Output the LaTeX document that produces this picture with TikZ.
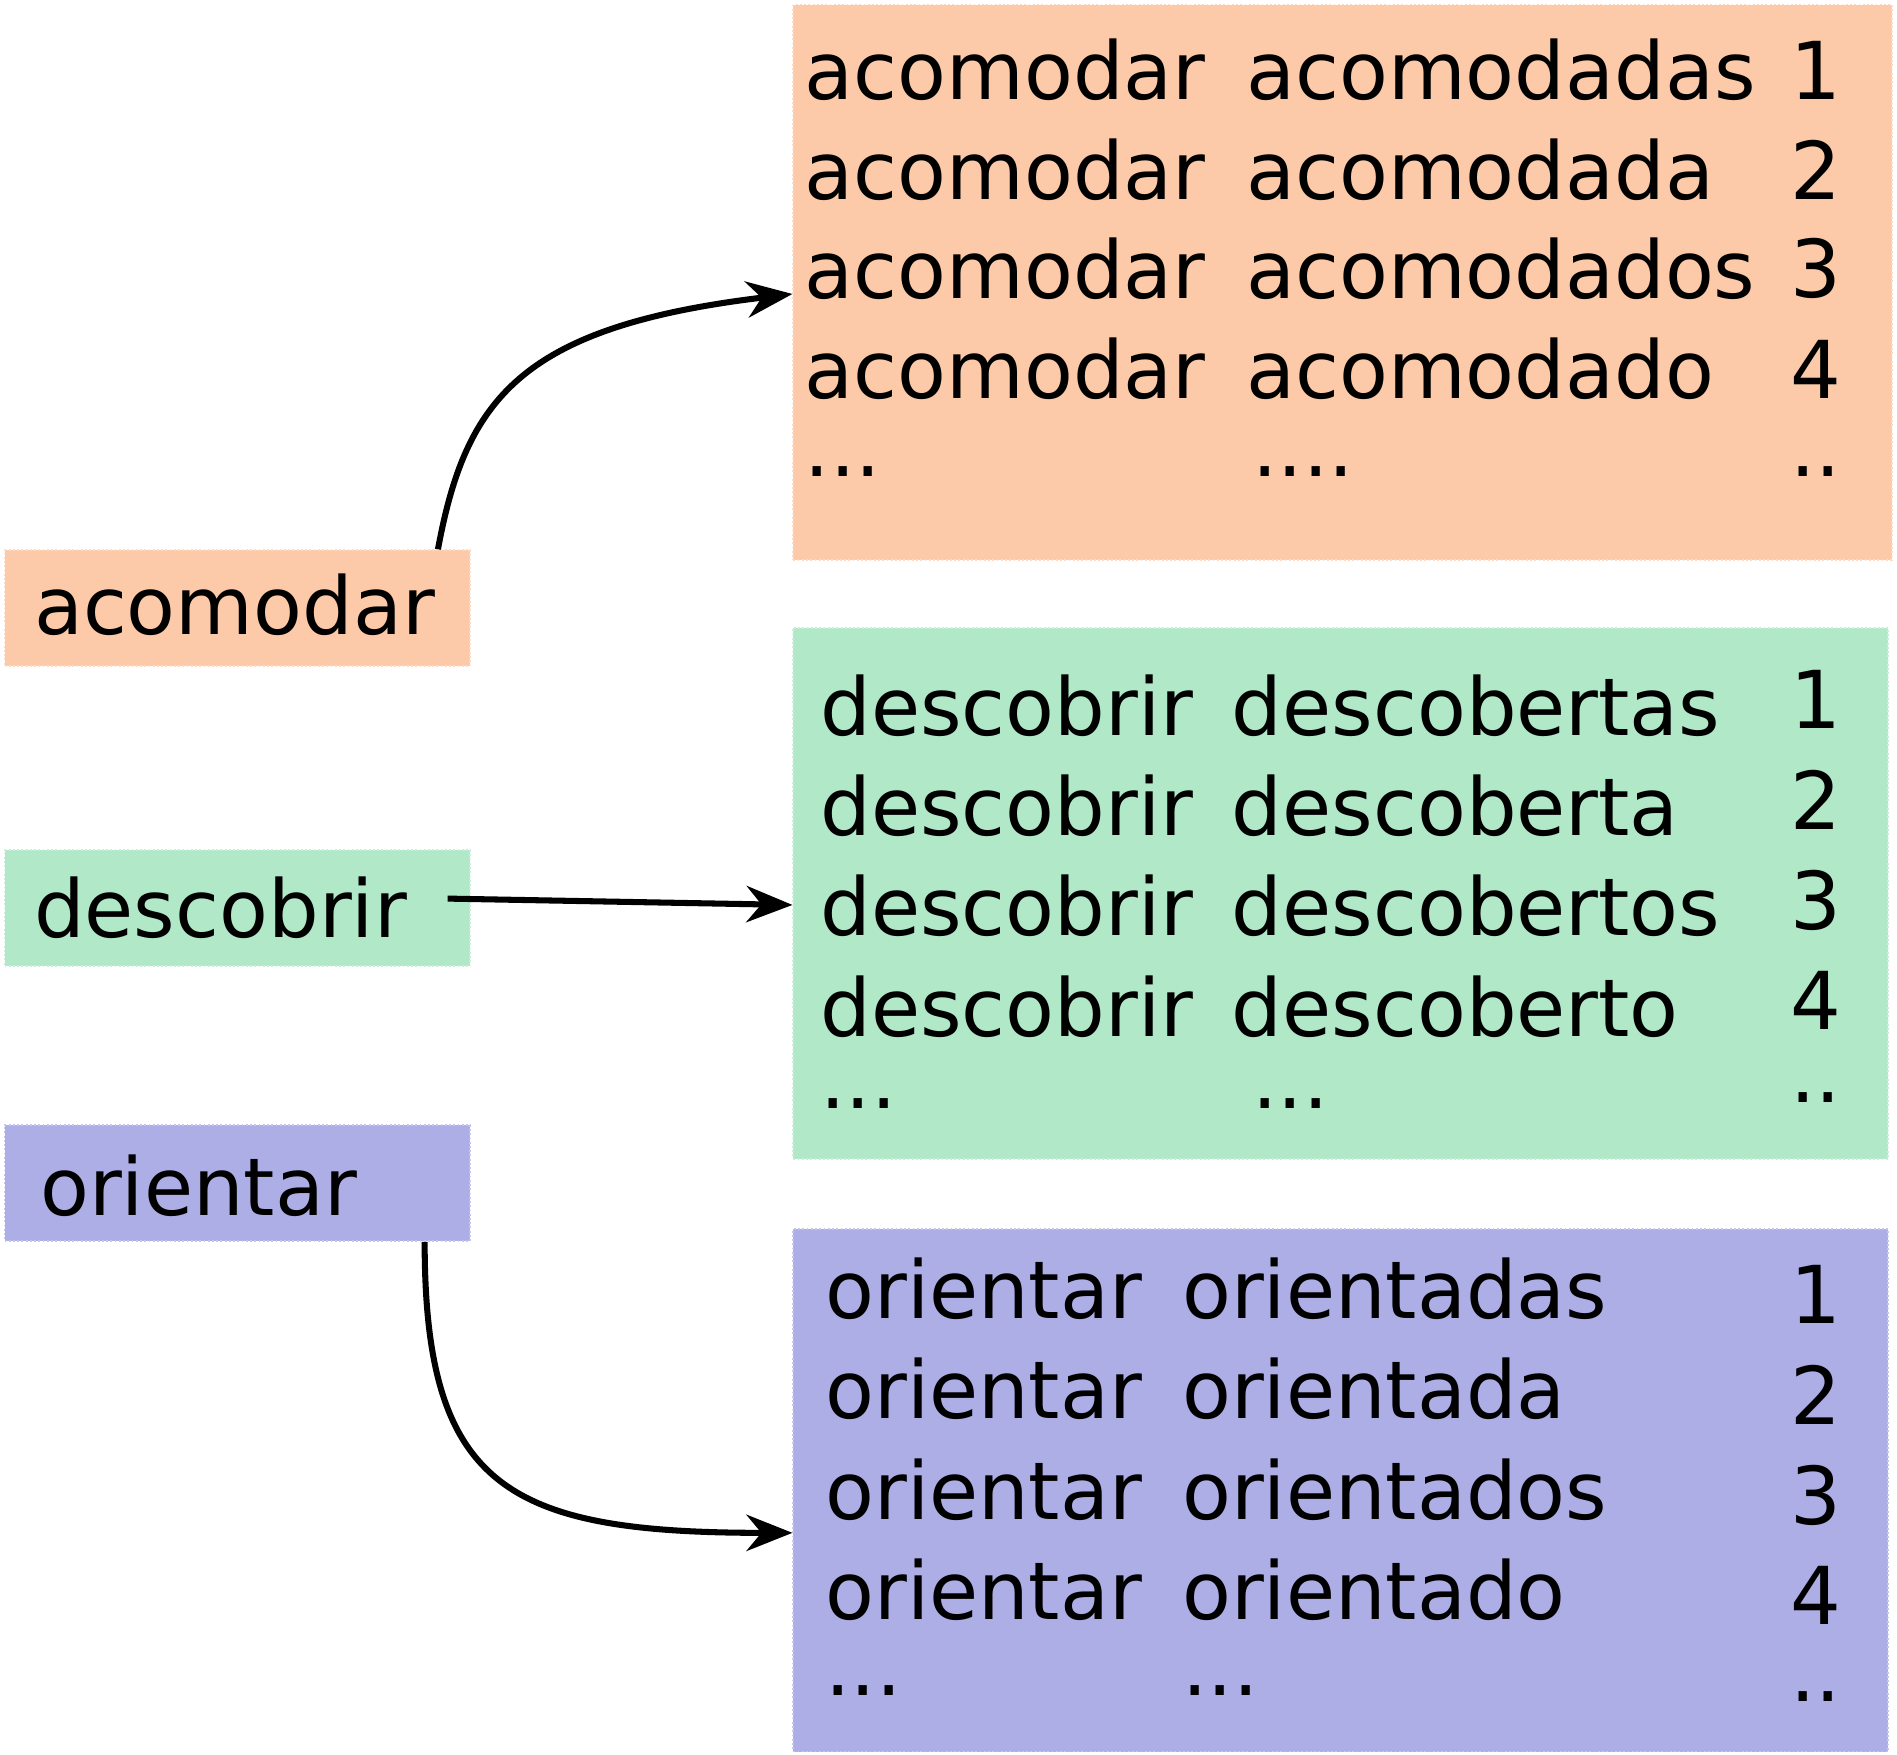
\documentclass[tikz,border=0pt]{standalone}
\usepackage{fontspec}
\setmainfont{DejaVu Sans}
\usetikzlibrary{arrows.meta}
\definecolor{corange}{HTML}{FCCAA8}
\definecolor{cgreen}{HTML}{B0E8C8}
\definecolor{cpurple}{HTML}{AEAEE6}
\begin{document}
\begin{tikzpicture}[x=1pt,y=-1pt,
  box/.style={draw=#1!70!white,dotted,line width=1.5pt,fill=#1,inner sep=0pt,anchor=north west},
  txt/.style={font=\fontsize{66}{70}\selectfont,anchor=west,inner sep=0pt},
  num/.style={font=\fontsize{66}{70}\selectfont,anchor=east,inner sep=0pt},
  conn/.style={line width=5pt,-{Stealth[length=38pt,width=30pt]}}]
\useasboundingbox (0,0) rectangle (1568,1450);
% big boxes
\node[box=corange,minimum width=908,minimum height=459] (obox) at (655,3) {};
\node[box=cgreen,minimum width=905,minimum height=439] (gbox) at (655,518) {};
\node[box=cpurple,minimum width=905,minimum height=432] (pbox) at (655,1015) {};
% small boxes
\node[box=corange,minimum width=385,minimum height=96] (sa) at (3,454) {};
\node[box=cgreen,minimum width=385,minimum height=96] (sd) at (3,702) {};
\node[box=cpurple,minimum width=385,minimum height=96] (so) at (3,929) {};
\node[txt] (la) at (28,500) {acomodar};
\node[txt] (ld) at (28,750) {descobrir};
\node[txt] (lo) at (33,980) {orientar};
% orange rows
\foreach \y/\w/\n [count=\i] in {58/acomodadas/1,140/acomodada/2,222/acomodados/3,305/acomodado/4}{
  \node[txt] (oa\i) at (665,\y) {acomodar};
  \node[txt] (ob\i) at (1030,\y) {\w};
  \node[num] (oc\i) at (1522,\y) {\n};}
\node[txt] (oa5) at (665,390) {...};
\node[txt] (ob5) at (1035,390) {....};
\node[num] (oc5) at (1522,390) {..};
% green rows
\foreach \y/\w/\n [count=\i] in {583/descobertas/1,666/descoberta/2,749/descobertos/3,832/descoberto/4}{
  \node[txt] (ga\i) at (678,\y) {descobrir};
  \node[txt] (gb\i) at (1018,\y) {\w};
  \node[num] (gc\i) at (1522,\y-5) {\n};}
\node[txt] (ga5) at (678,912) {...};
\node[txt] (gb5) at (1035,912) {...};
\node[num] (gc5) at (1522,907) {..};
% purple rows
\foreach \y/\w/\n [count=\i] in {1065/orientadas/1,1148/orientada/2,1231/orientados/3,1314/orientado/4}{
  \node[txt] (pa\i) at (682,\y) {orientar};
  \node[txt] (pb\i) at (977,\y) {\w};
  \node[num] (pc\i) at (1522,\y+5) {\n};}
\node[txt] (pa5) at (682,1397) {...};
\node[txt] (pb5) at (977,1397) {...};
\node[num] (pc5) at (1522,1402) {..};
% connectors
\coordinate (ta) at (obox.west |- 0,243);
\coordinate (td) at (gbox.west |- 0,748);
\coordinate (tp) at (pbox.west |- 0,1267);
\draw[conn] (sa.north -| 362,0) .. controls (385,330) and (430,270) .. (ta);
\draw[conn] (sd.east -| 370,0) ++(0,-8) -- (td);
\draw[conn] (so.south -| 351,0) .. controls (351,1230) and (420,1267) .. (tp);
\end{tikzpicture}
\end{document}
